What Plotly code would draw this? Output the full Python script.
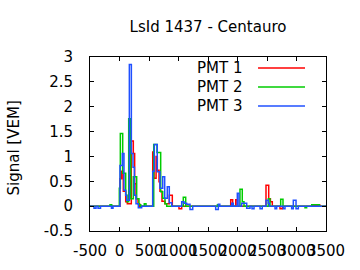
import plotly.graph_objects as go

# PMT traces: step change times (ns) and values (VEM)
t_pmt1 = [-500, 8, 37, 64, 105, 132, 200, 234, 257, 280, 314, 340,
          563, 585, 620, 641, 670, 686, 720, 771, 844, 895,
          1008, 1054, 1885, 1918, 1970, 1998, 2483, 2529, 2558, 2590,
          2720, 2760, 3258, 3399, 3500]
v_pmt1 = [0, 0.55, 0.7, 0.3, 0.09, 0.05, 1.31, 1.06, 0.45, 0.15, 0.05, 0,
          1.09, 0.56, 1.0, 0.72, 0.49, 0.3, 0.1, 0.05, 0.22, 0,
          -0.05, 0, 0.13, 0, 0.13, 0, 0.42, 0.15, 0.09, 0,
          -0.05, 0, 0.02, 0, 0]

t_pmt2 = [-500, -161, -132, -3, 14, 54, 105, 127, 156, 190, 234, 291, 330, 360,
          420, 449, 580, 636, 698, 732, 771, 800, 1081, 1122, 1660, 1690,
          2042, 2081, 2110, 2522, 2551, 2732, 2771, 3144, 3172, 3258, 3387, 3500]
v_pmt2 = [0, 0.03, 0, 0.36, 1.46, 0.66, 0.22, 0.09, 1.76, 0.15, 0.59, 0.15, 0.03, 0,
          0.05, 0, 1.24, 1.08, 0.29, 0.16, 0.05, 0, 0.18, 0, 0.03, 0,
          0.34, 0.09, 0, 0.15, 0, 0.14, 0, -0.03, 0, 0.03, 0, 0]

t_pmt3 = [-500, -432, -398, -364, -322, -136, -110, 8, 48, 76, 105, 122,
          167, 201, 229, 252, 280, 319, 376, 563, 590, 640, 686, 732, 766, 810, 844, 885,
          1054, 1093, 1139, 1195, 1241, 1630, 1675, 1700,
          1902, 1929, 1997, 2025, 2070, 2156, 2212, 2246, 2280, 2382, 2420,
          2483, 2522, 2540, 2636, 2664, 2776, 2805, 2918, 2946, 2992, 3031, 3500]
v_pmt3 = [0, -0.04, 0, -0.04, 0, -0.04, 0, 0.82, 1.06, 0.32, 0.22, 0.12,
          2.85, 1.06, 0.78, 0.22, 0.05, -0.03, 0, 0.7, 1.24, 0.69, 0.36, 0.59, 0.16, 0.39, 0.07, 0,
          0.09, 0.06, 0.04, -0.07, 0, -0.07, 0.04, 0,
          0.06, 0, 0.26, 0, 0.06, -0.04, 0, -0.05, 0, -0.05, 0,
          0.12, 0.06, 0, -0.05, 0, -0.05, 0, -0.05, 0.12, -0.05, 0, 0]

names = ["PMT 1", "PMT 2", "PMT 3"]
colors = ["#ff0000", "#00cc00", "#2050ff"]
x_ticks = [-500, 0, 500, 1000, 1500, 2000, 2500, 3000, 3500]
y_ticks = [-0.5, 0, 0.5, 1, 1.5, 2, 2.5, 3]

FONT = "DejaVu Sans"
fig = go.Figure()
for t, v, n, c in zip([t_pmt1, t_pmt2, t_pmt3], [v_pmt1, v_pmt2, v_pmt3], names, colors):
    fig.add_trace(go.Scatter(x=t, y=v, mode="lines", line=dict(color=c, width=1.5, shape="hv"),
                             name=n, showlegend=False))

# gnuplot-style key: text then line sample
key_y = [0.937, 0.828, 0.718]
for n, c, ky in zip(names, colors, key_y):
    fig.add_annotation(x=0.648, y=ky, xref="paper", yref="paper", text=n, showarrow=False,
                       xanchor="right", yanchor="middle", borderpad=0,
                       font=dict(family=FONT, size=15, color="black"))
    fig.add_shape(type="line", xref="paper", yref="paper", x0=0.712, x1=0.911, y0=ky, y1=ky,
                  line=dict(color=c, width=1.5))

fig.add_annotation(x=-0.32, y=0.477, xref="paper", yref="paper", text="Signal [VEM]", textangle=-90,
                   showarrow=False, xanchor="center", yanchor="middle",
                   font=dict(family=FONT, size=15, color="black"))

axis_common = dict(showgrid=False, zeroline=False, showline=True, linecolor="black", linewidth=1,
                   mirror="ticks", ticks="inside", ticklen=4, tickcolor="black", tickwidth=1,
                   automargin=False, tickfont=dict(family=FONT, size=15, color="black"))
fig.update_xaxes(range=[-500, 3500], tickvals=x_ticks, ticktext=[str(v) for v in x_ticks],
                 tickangle=0, ticklabelstandoff=6, **axis_common)
fig.update_yaxes(range=[-0.5, 3], tickvals=y_ticks, ticktext=[f"{v:g}" for v in y_ticks],
                 ticklabelstandoff=13, **axis_common)

fig.update_layout(
    width=360, height=270,
    margin=dict(l=90, r=34, t=57, b=39),
    paper_bgcolor="white", plot_bgcolor="white",
    title=dict(text="LsId 1437 - Centauro", x=0.5, xref="paper", y=0.9, yanchor="middle",
               font=dict(family=FONT, size=15, color="black")),
)
fig.write_html("out.html")
